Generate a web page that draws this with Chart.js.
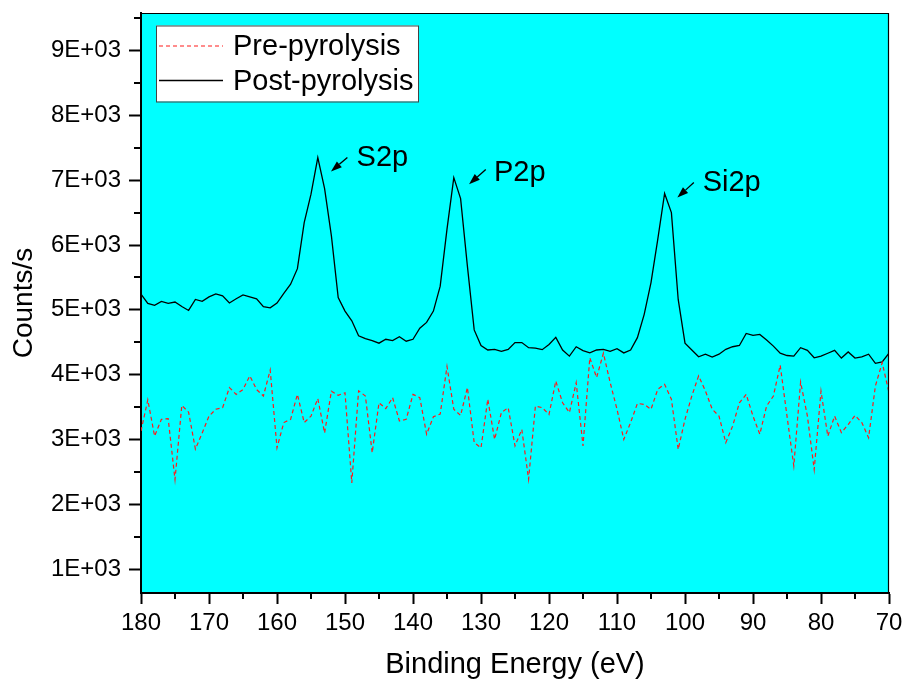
<!DOCTYPE html>
<html><head><meta charset="utf-8">
<script src="https://cdn.jsdelivr.net/npm/chart.js@4.4.0/dist/chart.umd.min.js"></script>
<style>html,body{margin:0;padding:0;background:#fff;}#wrap{width:904px;height:682px;}</style>
</head><body><div id="wrap"><canvas id="c" width="904" height="682"></canvas></div>
<script>
const energies = [180,179,178,177,176,175,174,173,172,171,170,169,168,167,166,165,164,163,162,161,
160,159,158,157,156,155,154,153,152,151,150,149,148,147,146,145,144,143,142,141,
140,139,138,137,136,135,134,133,132,131,130,129,128,127,126,125,124,123,122,121,
120,119,118,117,116,115,114,113,112,111,110,109,108,107,106,105,104,103,102,101,
100,99,98,97,96,95,94,93,92,91,90,89,88,87,86,85,84,83,82,81,
80,79,78,77,76,75,74,73,72,71,70];
const preCounts = [3130,3610,3050,3310,3320,2380,3525,3420,2850,3100,
3360,3465,3490,3800,3695,3770,3980,3770,3670,4070,
2870,3260,3310,3695,3260,3360,3630,3100,3745,3680,
3720,2330,3750,3670,2795,3565,3475,3645,3285,3310,
3695,3645,3080,3350,3390,4125,3465,3370,3800,2950,
2870,3620,3000,3415,3490,2900,3155,2385,3515,3490,
3385,3900,3565,3415,3875,2900,4260,3955,4330,3875,
3465,3000,3260,3555,3540,3465,3775,3850,3620,2845,
3310,3670,3980,3750,3465,3360,2950,3205,3565,3695,
3360,3080,3515,3670,4145,3360,2590,3885,3360,2535,
3745,3050,3360,3105,3230,3370,3260,3025,3825,4185,
3720];
const postCounts = [5240,5100,5070,5130,5100,5120,5050,4990,5160,5130,
5200,5245,5215,5105,5170,5230,5200,5170,5050,5030,
5105,5255,5395,5635,6345,6785,7350,6870,6140,5190,
4980,4830,4600,4555,4525,4485,4545,4525,4585,4515,
4545,4715,4805,4980,5365,6245,7040,6715,5675,4690,
4450,4380,4390,4360,4390,4495,4495,4415,4410,4385,
4465,4575,4380,4285,4430,4370,4335,4380,4390,4360,
4400,4335,4380,4570,4930,5420,6090,6795,6500,5160,
4485,4380,4275,4315,4270,4315,4390,4430,4450,4635,
4605,4620,4535,4440,4330,4295,4285,4415,4375,4260,
4285,4330,4375,4255,4350,4255,4275,4315,4175,4195,
4330];
const seriesNames = ['Pre-pyrolysis', 'Post-pyrolysis'];
const xTickValues = [180,170,160,150,140,130,120,110,100,90,80,70];
const xTickLabels = ['180','170','160','150','140','130','120','110','100','90','80','70'];
const xMinorValues = [175,165,155,145,135,125,115,105,95,85,75];
const yTickValues = [1000,2000,3000,4000,5000,6000,7000,8000,9000];
const yTickLabels = ['1E+03','2E+03','3E+03','4E+03','5E+03','6E+03','7E+03','8E+03','9E+03'];
const yMinorValues = [1500,2500,3500,4500,5500,6500,7500,8500,9500];
const peakLabels = ['S2p', 'P2p', 'Si2p'];
// annotation anchors in data coordinates [energy, counts]
const peakTextAt = [[148.3,7220],[128.1,6989],[97.4,6834]];
const peakArrowFrom = [[149.65,7350],[129.3,7166],[98.7,6964]];
const peakArrowTo = [[152.06,7134],[131.76,6938],[101.12,6732]];

const FONT = "'Liberation Sans', Arial, Helvetica, sans-serif";
Chart.defaults.font.family = FONT;
Chart.defaults.color = '#000';

const toXY = (vals) => energies.map((e, i) => ({x: e, y: vals[i]}));

const bgPlugin = {
  id: 'bg',
  beforeDraw(chart) {
    const {ctx, chartArea: a} = chart;
    ctx.save();
    ctx.fillStyle = '#00FFFF';
    ctx.fillRect(a.left, a.top, a.right - a.left, a.bottom - a.top);
    ctx.restore();
  }
};

function arrow(ctx, x1, y1, x2, y2) {
  const ang = Math.atan2(y2 - y1, x2 - x1);
  const hl = 11, hw = 3.8;
  const bx = x2 - hl * Math.cos(ang), by = y2 - hl * Math.sin(ang);
  ctx.beginPath();
  ctx.moveTo(x1, y1); ctx.lineTo(bx, by);
  ctx.lineWidth = 1.3; ctx.strokeStyle = '#000'; ctx.stroke();
  ctx.beginPath();
  ctx.moveTo(x2, y2);
  ctx.lineTo(bx + hw * Math.sin(ang), by - hw * Math.cos(ang));
  ctx.lineTo(bx - hw * Math.sin(ang), by + hw * Math.cos(ang));
  ctx.closePath(); ctx.fillStyle = '#000'; ctx.fill();
}

const decoPlugin = {
  id: 'deco',
  afterDraw(chart) {
    const {ctx, chartArea: a, scales: {x, y}} = chart;
    ctx.save();
    // frame top/right
    ctx.strokeStyle = '#000';
    ctx.lineWidth = 1.2;
    ctx.beginPath();
    ctx.moveTo(a.left, a.top + 0.5); ctx.lineTo(a.right - 0.5, a.top + 0.5); ctx.lineTo(a.right - 0.5, a.bottom);
    ctx.stroke();
    // minor ticks
    ctx.lineWidth = 2;
    ctx.beginPath();
    xMinorValues.forEach(v => { const px = Math.round(x.getPixelForValue(v)); ctx.moveTo(px, a.bottom); ctx.lineTo(px, a.bottom + 6); });
    yMinorValues.forEach(v => { const py = Math.round(y.getPixelForValue(v)); ctx.moveTo(a.left, py); ctx.lineTo(a.left - 7, py); });
    ctx.stroke();
    // legend
    const lx = a.left + 15, ly = a.top + 12.5, lw = 262, lh = 76;
    ctx.fillStyle = '#fff';
    ctx.fillRect(lx, ly, lw, lh);
    ctx.strokeStyle = '#444'; ctx.lineWidth = 1;
    ctx.strokeRect(lx + 0.5, ly + 0.5, lw, lh);
    ctx.font = '29px ' + FONT;
    ctx.textBaseline = 'alphabetic'; ctx.textAlign = 'left';
    chart.data.datasets.forEach((ds, i) => {
      const cy = ly + 20.5 + i * 34.5;
      ctx.beginPath();
      ctx.setLineDash(ds.borderDash || []);
      ctx.strokeStyle = ds.borderColor; ctx.lineWidth = ds.borderWidth;
      ctx.moveTo(lx + 3, cy); ctx.lineTo(lx + 67, cy); ctx.stroke();
      ctx.setLineDash([]);
      ctx.fillStyle = '#000';
      ctx.fillText(ds.label, lx + 77, cy + 9 );
    });
    // peak annotations
    ctx.font = '29px ' + FONT;
    peakLabels.forEach((t, i) => {
      const tx = x.getPixelForValue(peakTextAt[i][0]), ty = y.getPixelForValue(peakTextAt[i][1]);
      ctx.fillStyle = '#000';
      ctx.fillText(t, tx, ty);
      arrow(ctx, x.getPixelForValue(peakArrowFrom[i][0]), y.getPixelForValue(peakArrowFrom[i][1]),
                 x.getPixelForValue(peakArrowTo[i][0]), y.getPixelForValue(peakArrowTo[i][1]));
    });
    ctx.restore();
  }
};

new Chart(document.getElementById('c'), {
  type: 'line',
  data: {
    datasets: [
      {label: seriesNames[0], data: toXY(preCounts), borderColor: '#ff1a1a', borderWidth: 1.2, borderDash: [4, 3], pointRadius: 0, tension: 0, fill: false},
      {label: seriesNames[1], data: toXY(postCounts), borderColor: '#000', borderWidth: 1.3, pointRadius: 0, tension: 0, fill: false}
    ]
  },
  options: {
    responsive: false,
    animation: false,
    devicePixelRatio: 1,
    layout: {padding: {top: 13, right: 15, left: 0, bottom: 0}},
    plugins: {legend: {display: false}, tooltip: {enabled: false}},
    scales: {
      x: {
        type: 'linear', min: 70, max: 180, reverse: true,
        afterBuildTicks: s => { s.ticks = xTickValues.map(v => ({value: v})); },
        afterFit: s => { s.height = 89; s.paddingLeft = 0; s.paddingRight = 0; },
        ticks: {font: {size: 24}, color: '#000', padding: 5, maxRotation: 0, autoSkip: false,
          callback: v => { const i = xTickValues.indexOf(v); return i >= 0 ? xTickLabels[i] : ''; }},
        grid: {display: true, drawOnChartArea: false, drawTicks: true, tickLength: 11, tickColor: '#000', tickWidth: 2},
        border: {display: true, color: '#000', width: 2},
        title: {display: true, text: 'Binding Energy (eV)', font: {size: 29}, color: '#000', padding: {top: 0, bottom: 0}}
      },
      y: {
        type: 'linear', min: 630, max: 9580,
        afterBuildTicks: s => { s.ticks = yTickValues.map(v => ({value: v})); },
        afterFit: s => { s.width = 141; s.paddingTop = 0; s.paddingBottom = 0; },
        ticks: {font: {size: 24}, color: '#000', padding: 8, autoSkip: false,
          callback: v => { const i = yTickValues.indexOf(v); return i >= 0 ? yTickLabels[i] : ''; }},
        grid: {display: true, drawOnChartArea: false, drawTicks: true, tickLength: 12, tickColor: '#000', tickWidth: 2},
        border: {display: true, color: '#000', width: 2},
        title: {display: true, text: 'Counts/s', font: {size: 28}, color: '#000', padding: {top: 7, bottom: 0}}
      }
    }
  },
  plugins: [bgPlugin, decoPlugin]
});
</script></body></html>
